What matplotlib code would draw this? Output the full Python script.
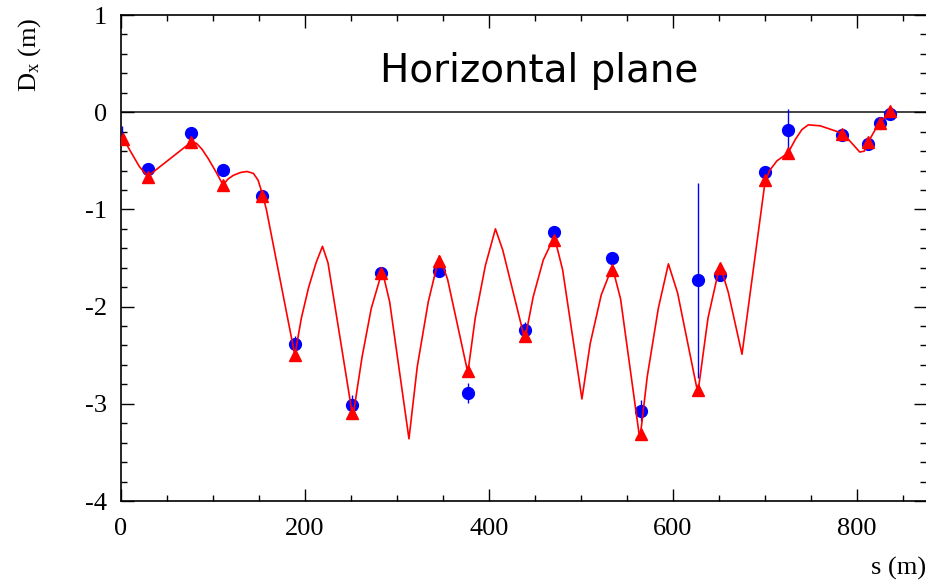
import matplotlib
matplotlib.use("Agg")
import matplotlib.pyplot as plt
from matplotlib.ticker import MultipleLocator

# ---- data ----
# measured dispersion at BPMs
meas_s = [29, 76, 111, 153, 189, 251, 283, 346, 377, 439, 471, 534, 565, 627, 651, 700, 725, 784, 812, 825, 836]
meas_dx = [-0.58, -0.21, -0.59, -0.86, -2.38, -3.01, -1.65, -1.63, -2.89, -2.24, -1.23, -1.50, -3.07, -1.73, -1.68, -0.62, -0.18, -0.23, -0.33, -0.11, -0.02]
meas_err = [0.03, 0.03, 0.03, 0.03, 0.08, 0.10, 0.03, 0.03, 0.10, 0.08, 0.03, 0.03, 0.11, 1.00, 0.03, 0.03, 0.21, 0.03, 0.03, 0.03, 0.03]
# point at the frame edge (marker hidden, only error bar visible)
edge_s = [1]
edge_dx = [-0.20]
edge_err = [0.06]

# model dispersion at BPMs
bpm_s = [2, 29, 76, 111, 153, 189, 251, 283, 346, 377, 439, 471, 534, 565, 627, 651, 700, 725, 784, 812, 825, 836]
bpm_dx = [-0.28, -0.67, -0.31, -0.75, -0.86, -2.50, -3.09, -1.65, -1.53, -2.66, -2.30, -1.31, -1.62, -3.31, -2.86, -1.60, -0.70, -0.42, -0.22, -0.31, -0.11, 0.01]

# model dispersion along the line
model_s = [0, 6, 12, 20, 29, 76, 82, 88, 95, 103, 111, 116, 122, 130, 137, 144, 149, 153, 158, 189,
           196, 204, 212, 219, 225, 252, 262, 272, 284, 292, 313, 322, 334, 346, 355, 377, 385,
           396, 407, 415, 439, 448, 459, 471, 480, 501, 510, 522, 534, 543, 564, 572, 584, 595,
           605, 627, 638, 651, 660, 675, 700, 705, 713, 725, 733, 740, 747, 760, 785, 803, 808,
           812, 824, 836]
model_dx = [-0.27, -0.33, -0.43, -0.56, -0.66, -0.31, -0.32, -0.38, -0.48, -0.61, -0.75, -0.69,
            -0.65, -0.62, -0.61, -0.63, -0.70, -0.82, -1.00, -2.50, -2.12, -1.80, -1.55, -1.38,
            -1.55, -3.14, -2.52, -2.02, -1.63, -1.95, -3.36, -2.62, -1.95, -1.48, -1.72, -2.68,
            -2.12, -1.58, -1.20, -1.42, -2.34, -1.90, -1.52, -1.28, -1.62, -2.95, -2.38, -1.88,
            -1.59, -1.92, -3.37, -2.72, -2.02, -1.56, -1.86, -2.89, -2.12, -1.57, -1.85, -2.49,
            -0.72, -0.60, -0.50, -0.42, -0.28, -0.18, -0.13, -0.14, -0.22, -0.41, -0.40, -0.31,
            -0.11, 0.00]

x_ticks = [0, 200, 400, 600, 800]
y_ticks = [1, 0, -1, -2, -3, -4]

# ---- style ----
plt.rcParams['font.family'] = ['Liberation Serif', 'DejaVu Serif']
plt.rcParams['mathtext.fontset'] = 'custom'
plt.rcParams['mathtext.rm'] = 'Liberation Serif'
plt.rcParams['mathtext.it'] = 'Liberation Serif:italic'
plt.rcParams['axes.unicode_minus'] = False

W, H = 926, 581
fig = plt.figure(figsize=(W / 100, H / 100), dpi=100)
ax = fig.add_axes([121 / W, (H - 501) / H, 805 / W, 486 / H])

ax.set_xlim(0, 875)
ax.set_ylim(-4, 1)

ax.axhline(0, color='#333333', lw=1.3, zorder=1)

ax.errorbar(meas_s, meas_dx, yerr=meas_err, fmt='o', color='#0000ff', ms=8.5,
            elinewidth=1.0, capsize=0, zorder=2)
ax.errorbar(edge_s, edge_dx, yerr=edge_err, fmt='none', ecolor='#0000ff',
            elinewidth=1.0, capsize=0, zorder=2)
ax.plot(model_s, model_dx, color='#ff0000', lw=1.2, zorder=3)
ax.plot(bpm_s, bpm_dx, linestyle='none', marker='^', color='#ff0000', ms=8.5, zorder=4)

ax.set_xticks(x_ticks)
ax.set_yticks(y_ticks)
ax.xaxis.set_minor_locator(MultipleLocator(50))
ax.yaxis.set_minor_locator(MultipleLocator(0.2))
ax.tick_params(which='both', direction='in', top=True, right=True, labelsize=19, width=1.0)
ax.tick_params(which='major', length=9)
ax.tick_params(which='minor', length=4.5)
ax.tick_params(axis='x', pad=12)
ax.tick_params(axis='y', pad=10)
for sp in ax.spines.values():
    sp.set_linewidth(1.2)
ax.spines['right'].set_visible(False)

ax.text(0.52, 0.885, 'Horizontal plane', transform=ax.transAxes, ha='center', va='center',
        fontsize=28, family='DejaVu Sans')

fig.text(30 / W, 1 - 17 / H, r'D$_{\mathrm{x}}$ (m)', rotation=90, ha='center', va='top', fontsize=19)
fig.text(1.0, 1 - 568 / H, 's (m)', ha='right', va='center', fontsize=19)

fig.savefig('out.png', dpi=100)
